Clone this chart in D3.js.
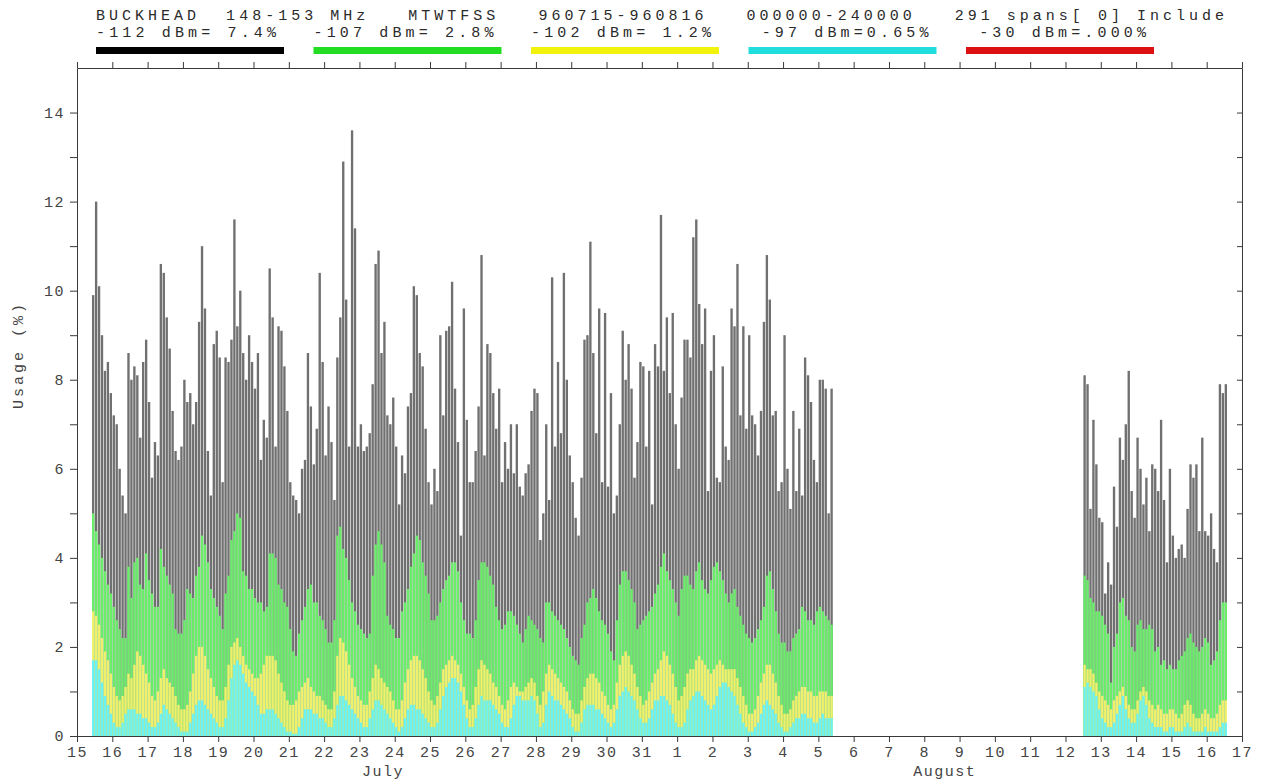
<!DOCTYPE html>
<html>
<head>
<meta charset="utf-8">
<script src="https://cdn.jsdelivr.net/npm/d3@7"></script>
<style>
  body { margin: 0; background: #fff; }
  text { font-family: "Liberation Mono", "DejaVu Sans Mono", monospace; }
</style>
</head>
<body>
<svg id="chart" width="1262" height="784"></svg>
<script>
// Receiver usage per 2-hour span, % of time above each threshold.
// Span blocks: July 15 10:00 -> Aug 5 10:00, and Aug 12 12:00 -> Aug 16 14:00
const blockStarts = ["1996-07-15T10:00", "1996-08-12T12:00"];
const spanHours = 2;

// -112 dBm
const jul112 = [
  9.9, 12.0, 10.1, 9.0, 8.2, 8.4, 7.7, 7.2, 7.0, 6.0, 5.4, 5.0,
  8.6, 8.0, 8.3, 8.1, 6.7, 8.4, 8.9, 7.5, 5.8, 6.6, 6.3, 10.6,
  10.4, 9.4, 8.7, 7.3, 6.4, 6.2, 6.5, 8.0, 7.5, 7.7, 7.0, 7.5,
  9.3, 11.0, 9.6, 6.4, 5.4, 8.8, 9.1, 8.5, 5.7, 8.5, 8.4, 8.9,
  11.6, 9.2, 10.0, 8.6, 8.0, 9.0, 8.4, 7.8, 8.6, 6.2, 7.1, 6.7,
  10.5, 9.4, 6.5, 9.2, 9.1, 8.3, 7.3, 5.7, 5.4, 5.3, 5.0, 6.0,
  6.2, 8.6, 7.4, 6.1, 6.9, 10.4, 8.4, 6.3, 7.4, 6.6, 5.3, 8.5,
  9.4, 12.9, 9.8, 6.5, 13.6, 11.4, 6.5, 7.0, 6.4, 6.5, 6.8, 7.9,
  10.6, 10.9, 8.6, 9.3, 7.2, 7.0, 7.6, 6.5, 5.2, 6.3, 5.9, 7.4,
  7.7, 10.1, 9.9, 8.6, 8.3, 6.9, 5.7, 5.2, 6.0, 5.5, 9.0, 7.2,
  9.1, 9.2, 10.2, 7.8, 6.6, 4.5, 9.6, 7.1, 5.7, 5.7, 6.4, 7.4,
  10.8, 6.3, 8.8, 8.6, 7.7, 6.9, 7.8, 5.7, 6.6, 6.0, 7.0, 5.9,
  7.0, 5.6, 5.4, 5.9, 6.1, 7.3, 7.8, 7.7, 4.4, 5.0, 7.0, 5.3,
  10.3, 6.5, 8.4, 6.8, 10.4, 8.0, 6.3, 5.7, 4.9, 4.5, 5.8, 8.9,
  9.0, 11.1, 8.6, 6.8, 9.6, 5.7, 9.5, 5.6, 7.7, 5.0, 5.4, 7.0,
  9.1, 8.0, 8.8, 7.8, 5.8, 6.6, 8.4, 8.3, 6.5, 8.2, 5.2, 8.8,
  8.3, 11.7, 8.2, 9.4, 7.7, 9.5, 7.0, 6.0, 7.6, 8.9, 8.9, 8.5,
  11.2, 11.6, 9.7, 8.8, 9.6, 5.5, 8.2, 9.0, 5.8, 5.7, 8.3, 6.5,
  6.2, 9.6, 9.2, 10.6, 7.2, 9.2, 6.9, 9.0, 7.2, 7.0, 6.3, 7.3,
  9.3, 10.8, 9.8, 7.2, 7.3, 5.5, 5.7, 9.0, 6.0, 5.1, 7.3, 5.5,
  6.9, 5.4, 8.5, 8.1, 7.5, 6.2, 5.7, 8.0, 8.0, 7.8, 5.0, 7.8
];
// -107 dBm
const jul107 = [
  5.0, 4.6, 4.3, 4.0, 3.7, 3.4, 3.2, 2.9, 2.6, 2.4, 2.2, 2.2,
  3.8, 3.1, 3.9, 4.0, 3.4, 3.3, 4.1, 3.5, 3.2, 2.9, 2.9, 4.2,
  3.8, 3.6, 3.4, 3.2, 2.4, 2.3, 2.3, 2.6, 3.3, 3.2, 3.1, 3.6,
  3.8, 4.5, 4.3, 3.9, 3.3, 3.1, 2.9, 2.7, 2.4, 3.2, 3.6, 4.4,
  4.6, 5.0, 4.9, 3.7, 3.6, 3.3, 3.3, 3.1, 3.0, 3.0, 2.8, 2.9,
  4.1, 4.1, 4.0, 3.4, 3.3, 3.0, 2.9, 2.4, 1.9, 1.8, 2.3, 2.6,
  2.9, 3.3, 3.4, 3.0, 3.0, 2.7, 2.6, 2.4, 2.1, 2.1, 2.6, 4.5,
  4.7, 4.2, 4.0, 3.5, 3.0, 2.8, 2.5, 2.4, 2.3, 2.2, 2.3, 3.6,
  4.3, 4.6, 4.3, 3.9, 2.7, 2.5, 2.4, 2.2, 2.2, 2.8, 3.0, 3.3,
  3.8, 4.1, 4.5, 4.4, 3.9, 3.6, 3.2, 2.6, 2.6, 2.7, 3.0, 3.3,
  3.5, 3.6, 3.9, 3.9, 3.7, 3.0, 2.6, 2.3, 2.3, 2.2, 2.6, 3.5,
  3.9, 3.9, 3.8, 3.6, 3.4, 2.9, 2.6, 2.4, 2.5, 2.8, 2.8, 2.7,
  2.5, 2.3, 2.1, 2.4, 2.7, 2.6, 2.5, 2.4, 2.2, 2.1, 3.0, 3.0,
  2.8, 2.7, 2.6, 2.5, 2.4, 2.2, 2.0, 1.8, 1.7, 1.6, 2.2, 2.5,
  3.0, 3.1, 3.3, 3.1, 2.8, 2.6, 2.5, 2.3, 1.9, 1.7, 2.6, 3.4,
  3.7, 3.7, 3.5, 3.3, 3.0, 2.4, 2.5, 2.6, 2.7, 2.8, 2.9, 3.2,
  3.4, 3.8, 4.1, 3.7, 3.5, 3.3, 3.0, 2.7, 3.3, 3.6, 3.6, 3.4,
  3.3, 3.7, 3.9, 3.5, 3.3, 3.2, 3.5, 3.8, 3.9, 3.7, 3.5, 3.2,
  3.0, 3.2, 3.3, 2.9, 2.7, 2.5, 2.3, 2.2, 2.1, 2.2, 2.4, 2.6,
  2.9, 3.6, 3.7, 3.3, 2.8, 2.3, 2.1, 2.1, 1.9, 1.9, 2.2, 2.3,
  2.4, 2.9, 2.8, 2.6, 2.6, 2.5, 2.8, 2.9, 2.8, 2.7, 2.6, 2.5
];
// -102 dBm
const jul102 = [
  2.8, 2.7, 2.5, 2.2, 1.9, 1.7, 1.4, 1.1, 0.9, 0.8, 0.9, 1.1,
  1.4, 1.3, 1.6, 1.9, 1.8, 1.6, 1.4, 1.2, 0.9, 0.8, 1.0, 1.3,
  1.5, 1.3, 1.2, 1.1, 0.9, 0.7, 0.6, 0.6, 0.7, 1.0, 1.4, 1.8,
  2.0, 2.0, 1.8, 1.5, 1.3, 1.1, 0.9, 0.8, 0.8, 1.1, 1.6, 2.0,
  2.1, 2.2, 2.0, 1.8, 1.6, 1.5, 1.4, 1.3, 1.3, 1.4, 1.6, 1.8,
  1.8, 1.8, 1.7, 1.4, 1.2, 1.0, 0.8, 0.7, 0.7, 0.8, 1.0, 1.1,
  1.2, 1.3, 1.1, 1.0, 0.9, 0.9, 0.8, 0.7, 0.6, 0.6, 1.0, 1.8,
  2.2, 2.1, 1.9, 1.6, 1.3, 1.1, 0.9, 0.8, 0.7, 0.7, 1.0, 1.3,
  1.6, 1.5, 1.3, 1.2, 1.1, 1.0, 0.8, 0.6, 0.6, 0.8, 1.2, 1.5,
  1.7, 1.8, 1.8, 1.7, 1.5, 1.3, 1.0, 0.8, 0.7, 0.9, 1.2, 1.5,
  1.6, 1.7, 1.8, 1.7, 1.6, 1.4, 1.1, 0.8, 0.6, 0.7, 1.1, 1.5,
  1.7, 1.6, 1.5, 1.4, 1.2, 1.1, 0.9, 0.7, 0.6, 0.8, 1.1, 1.2,
  1.1, 1.0, 1.0, 1.1, 1.2, 1.3, 1.2, 0.9, 0.7, 1.0, 1.4, 1.6,
  1.5, 1.4, 1.3, 1.2, 1.1, 1.0, 0.8, 0.6, 0.5, 0.5, 0.8, 1.1,
  1.3, 1.4, 1.4, 1.3, 1.2, 1.0, 0.9, 0.7, 0.6, 0.7, 1.2, 1.6,
  1.8, 1.9, 1.8, 1.6, 1.4, 1.1, 0.9, 0.7, 0.8, 1.0, 1.2, 1.4,
  1.5, 1.7, 1.9, 1.8, 1.6, 1.4, 1.1, 0.8, 0.9, 1.1, 1.4, 1.5,
  1.5, 1.7, 1.8, 1.7, 1.6, 1.5, 1.4, 1.5, 1.6, 1.7, 1.6, 1.5,
  1.5, 1.5, 1.5, 1.3, 1.1, 0.9, 0.7, 0.5, 0.5, 0.6, 0.9, 1.2,
  1.4, 1.6, 1.6, 1.4, 1.2, 0.9, 0.7, 0.5, 0.5, 0.6, 0.8, 0.9,
  1.0, 1.1, 1.1, 1.0, 1.0, 0.9, 0.9, 1.0, 1.0, 1.0, 0.9, 0.9
];
// -97 dBm
const jul97 = [
  1.7, 1.7, 1.5, 1.2, 0.9, 0.7, 0.5, 0.3, 0.2, 0.2, 0.3, 0.5,
  0.6, 0.6, 0.6, 0.5, 0.5, 0.4, 0.4, 0.3, 0.2, 0.2, 0.3, 0.5,
  0.7, 0.6, 0.5, 0.4, 0.3, 0.2, 0.1, 0.1, 0.1, 0.3, 0.5, 0.7,
  0.8, 0.8, 0.7, 0.6, 0.5, 0.4, 0.3, 0.2, 0.2, 0.4, 0.8, 1.3,
  1.6, 1.7, 1.6, 1.4, 1.2, 1.1, 1.0, 0.9, 0.7, 0.5, 0.5, 0.6,
  0.6, 0.6, 0.5, 0.4, 0.3, 0.2, 0.1, 0.1, 0.05, 0.05, 0.2, 0.4,
  0.6, 0.6, 0.6, 0.5, 0.5, 0.4, 0.4, 0.3, 0.2, 0.2, 0.4, 0.7,
  0.9, 0.9, 0.8, 0.7, 0.6, 0.5, 0.4, 0.3, 0.2, 0.2, 0.4, 0.6,
  0.8, 0.8, 0.7, 0.6, 0.5, 0.4, 0.3, 0.2, 0.1, 0.2, 0.4, 0.6,
  0.7, 0.7, 0.6, 0.6, 0.5, 0.4, 0.3, 0.2, 0.2, 0.3, 0.6, 0.9,
  1.1, 1.2, 1.3, 1.3, 1.2, 1.0, 0.7, 0.4, 0.2, 0.2, 0.4, 0.7,
  0.9, 0.8, 0.8, 0.8, 0.7, 0.6, 0.5, 0.3, 0.2, 0.2, 0.4, 0.7,
  0.9, 0.9, 0.8, 0.8, 0.8, 0.9, 0.8, 0.5, 0.2, 0.3, 0.7, 1.0,
  0.9, 0.8, 0.8, 0.7, 0.6, 0.5, 0.4, 0.2, 0.1, 0.1, 0.3, 0.6,
  0.7, 0.7, 0.7, 0.6, 0.6, 0.5, 0.4, 0.3, 0.2, 0.3, 0.6, 0.9,
  1.0, 1.1, 1.0, 0.9, 0.8, 0.6, 0.4, 0.3, 0.3, 0.4, 0.6, 0.8,
  0.8, 0.9, 0.9, 0.8, 0.7, 0.5, 0.3, 0.2, 0.2, 0.3, 0.6, 0.8,
  0.9, 1.0, 1.0, 0.9, 0.8, 0.7, 0.6, 0.7, 0.9, 1.1, 1.2, 1.2,
  1.1, 1.0, 0.9, 0.7, 0.5, 0.3, 0.2, 0.1, 0.1, 0.2, 0.3, 0.5,
  0.7, 0.8, 0.7, 0.6, 0.5, 0.3, 0.2, 0.1, 0.1, 0.2, 0.3, 0.4,
  0.4, 0.5, 0.5, 0.4, 0.4, 0.3, 0.3, 0.4, 0.5, 0.4, 0.4, 0.4
];

const aug112 = [
  8.1, 7.9, 5.1, 7.1, 6.1, 4.9, 4.8, 3.2, 3.9, 3.4, 5.6, 4.7,
  6.7, 6.2, 7.0, 8.2, 5.5, 4.9, 6.7, 6.0, 5.2, 5.8, 4.6, 6.1,
  6.0, 5.5, 7.1, 5.3, 3.9, 6.0, 4.5, 4.0, 4.2, 4.3, 4.0, 5.1,
  6.1, 5.8, 6.1, 4.6, 6.7, 4.6, 4.5, 5.0, 4.2, 3.9, 7.9, 7.7,
  7.9
];
const aug107 = [
  3.6, 3.5, 3.1, 3.0, 2.8, 2.8, 2.7, 2.5, 2.3, 1.2, 2.0, 2.3,
  3.0, 3.1, 2.7, 2.6, 2.0, 1.9, 2.5, 2.6, 2.4, 2.4, 2.5, 2.4,
  1.9, 2.0, 1.6, 1.7, 1.5, 1.6, 1.5, 1.5, 1.7, 1.8, 1.9, 2.2,
  2.3, 2.1, 2.0, 1.9, 2.0, 2.2, 2.1, 1.6, 1.7, 1.9, 2.6, 3.0,
  3.0
];
const aug102 = [
  1.6, 1.5, 1.5, 1.4, 1.2, 1.0, 0.9, 0.8, 0.7, 0.6, 0.8, 0.9,
  1.0, 1.1, 0.9, 0.7, 0.6, 0.6, 0.8, 1.0, 1.1, 1.0, 0.8, 0.7,
  0.6, 0.7, 0.6, 0.5, 0.5, 0.6, 0.6, 0.5, 0.4, 0.5, 0.7, 0.8,
  0.7, 0.5, 0.4, 0.4, 0.5, 0.6, 0.5, 0.4, 0.4, 0.5, 0.7, 0.8,
  0.8
];
const aug97 = [
  1.1, 1.2, 1.1, 1.0, 0.9, 0.6, 0.4, 0.3, 0.2, 0.2, 0.3, 0.5,
  0.7, 0.9, 0.6, 0.4, 0.3, 0.3, 0.5, 0.8, 0.9, 0.7, 0.4, 0.3,
  0.2, 0.2, 0.2, 0.1, 0.1, 0.2, 0.2, 0.1, 0.1, 0.1, 0.2, 0.3,
  0.2, 0.1, 0.1, 0.1, 0.1, 0.2, 0.1, 0.1, 0.1, 0.1, 0.2, 0.3,
  0.3
];

// Header text
const titleLine = "BUCKHEAD  148-153 MHz   MTWTFSS   960715-960816   000000-240000   291 spans[ 0] Include";
const thresholds = ["-112", "-107", "-102", "-97", "-30"];
const levelPct = ["7.4", "2.8", "1.2", "0.65", ".000"];
const monthNames = ["July", "August"];
const yTickValues = d3.range(0, 16);
const yLabel = "Usage (%)";

(function draw() {
  const svg = d3.select("#chart");
  const plotLeft = 77, plotRight = 1242, plotTop = 68, plotBottom = 736;
  const axisColor = "#3a3a3a";
  const textColor = "#444444";

  const parseT = d3.timeParse("%Y-%m-%dT%H:%M");
  const x = d3.scaleTime()
    .domain([new Date(1996, 6, 15), new Date(1996, 7, 17)])
    .range([plotLeft, plotRight]);
  const y = d3.scaleLinear().domain([0, 15]).range([plotBottom, plotTop]);

  // Build span records
  const blocks = [
    [jul112, jul107, jul102, jul97],
    [aug112, aug107, aug102, aug97]
  ];
  const spans = blocks.flatMap((b, bi) => {
    const start = parseT(blockStarts[bi]);
    return b[0].map((v, i) => ({
      t0: d3.timeHour.offset(start, i * spanHours),
      t1: d3.timeHour.offset(start, (i + 1) * spanHours),
      levels: [v, b[1][i], b[2][i], b[3][i]]
    }));
  });

  // Layer colours, drawn back to front
  const layerColors = ["#707070", "#6aee6a", "#f0f06c", "#6cf2f2"];
  const headerColors = ["#000000", "#22dd22", "#f2f20a", "#20dede", "#dd1111"];

  const plot = svg.append("g");
  layerColors.forEach((col, li) => {
    plot.append("g").selectAll("rect")
      .data(spans)
      .join("rect")
      .attr("x", d => { const w = x(d.t1) - x(d.t0); return x(d.t0) + w * 0.1; })
      .attr("width", d => (x(d.t1) - x(d.t0)) * 0.8)
      .attr("y", d => y(d.levels[li]))
      .attr("height", d => y(0) - y(d.levels[li]))
      .attr("fill", col);
  });

  // Axes
  const dayFmt = d3.timeFormat("%-d");
  const days = d3.timeDay.range(x.domain()[0], d3.timeDay.offset(x.domain()[1], 1));

  const styleAxis = g => {
    g.selectAll("path").attr("stroke", axisColor).attr("stroke-width", 1);
    g.selectAll("line").attr("stroke", axisColor).attr("stroke-width", 1);
    g.selectAll("text").attr("fill", textColor).attr("font-size", 15)
      .attr("font-family", "Liberation Mono, DejaVu Sans Mono, monospace");
  };

  svg.append("g")
    .attr("transform", `translate(0,${plotBottom})`)
    .call(d3.axisBottom(x).tickValues(days).tickFormat(dayFmt).tickSize(6).tickSizeOuter(0).tickPadding(4))
    .call(styleAxis)
    .call(g => g.selectAll("text").attr("letter-spacing", 1.5));

  svg.append("g")
    .attr("transform", `translate(0,${plotTop})`)
    .call(d3.axisTop(x).tickValues(days).tickFormat("").tickSize(6).tickSizeOuter(0))
    .call(styleAxis);

  svg.append("g")
    .attr("transform", `translate(${plotLeft},0)`)
    .call(d3.axisLeft(y).tickValues(yTickValues.filter(v => v < 15))
      .tickFormat(v => v % 2 === 0 ? v : "").tickSize(7).tickSizeOuter(0).tickPadding(5))
    .call(styleAxis)
    .call(g => g.selectAll("text").attr("letter-spacing", 1.5));

  svg.append("g")
    .attr("transform", `translate(${plotRight},0)`)
    .call(d3.axisLeft(y).tickValues(yTickValues.filter(v => v > 0 && v < 15))
      .tickFormat("").tickSize(5).tickSizeOuter(0))
    .call(styleAxis);

  // Month captions
  const monthPos = [new Date(1996, 6, 23, 16), new Date(1996, 7, 8, 14)];
  svg.append("g").selectAll("text")
    .data(monthNames)
    .join("text")
    .attr("x", (d, i) => x(monthPos[i]))
    .attr("y", 776)
    .attr("text-anchor", "middle")
    .attr("font-size", 15)
    .attr("letter-spacing", 1.5)
    .attr("fill", textColor)
    .text(d => d);

  // Y axis title
  svg.append("text")
    .attr("transform", "translate(23,355) rotate(-90)")
    .attr("text-anchor", "middle")
    .attr("font-size", 15)
    .attr("letter-spacing", 3)
    .attr("fill", textColor)
    .text(yLabel);

  // Header line 1
  svg.append("text")
    .attr("x", 96)
    .attr("y", 20)
    .attr("font-size", 15)
    .attr("fill", "#2a2a2a")
    .attr("textLength", 1128)
    .attr("lengthAdjust", "spacing")
    .style("white-space", "pre")
    .text(titleLine);

  // Header line 2 with threshold colour keys
  const keyX = d3.range(5).map(i => 96 + i * 217.5);
  const keys = svg.append("g");
  keys.selectAll("text")
    .data(thresholds)
    .join("text")
    .attr("x", (d, i) => keyX[i])
    .attr("y", 37)
    .attr("font-size", 15)
    .attr("fill", "#2a2a2a")
    .attr("textLength", 180)
    .attr("lengthAdjust", "spacing")
    .style("white-space", "pre")
    .text((d, i) => d.padStart(4, " ") + " dBm=" + levelPct[i].padStart(4, " ") + "%");
  keys.selectAll("rect")
    .data(thresholds)
    .join("rect")
    .attr("x", (d, i) => keyX[i])
    .attr("y", 47)
    .attr("width", 188)
    .attr("height", 7)
    .attr("fill", (d, i) => headerColors[i]);
})();
</script>
</body>
</html>
